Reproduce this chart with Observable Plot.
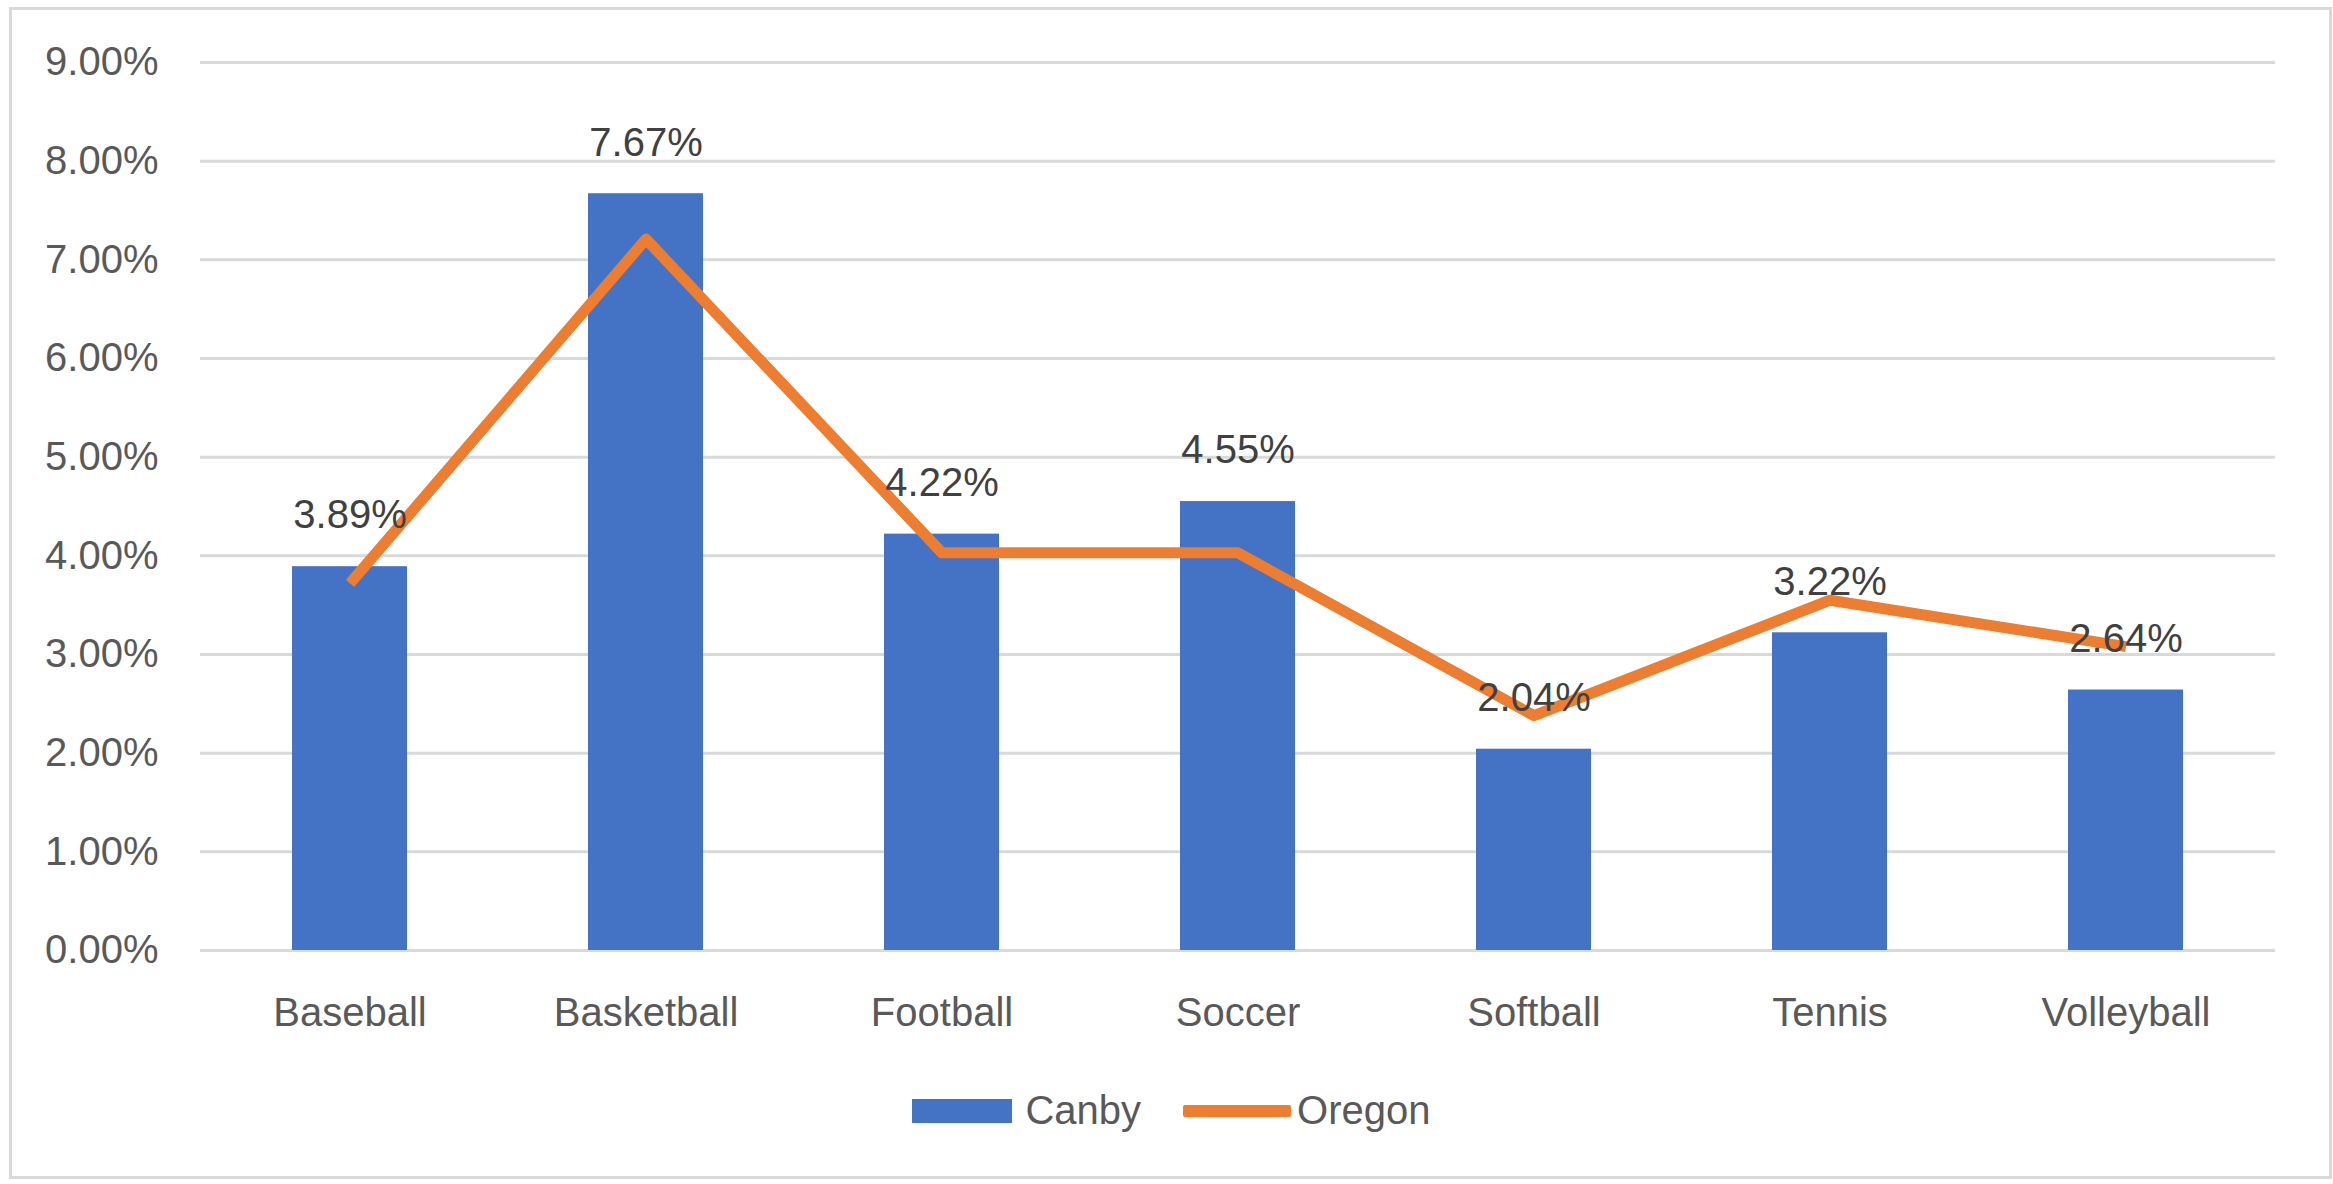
<!DOCTYPE html>
<html>
<head>
<meta charset="utf-8">
<script src="https://cdn.jsdelivr.net/npm/d3@7"></script>
<script src="https://cdn.jsdelivr.net/npm/@observablehq/plot@0.6"></script>
<style>
  html, body { margin: 0; padding: 0; background: #fff; }
  body { width: 2333px; height: 1184px; position: relative; overflow: hidden; font-family: "Liberation Sans", Arial, sans-serif; }
  #frame { position: absolute; left: 9px; top: 7px; width: 2323px; height: 1172px; border: 3px solid #d9d9d9; box-sizing: border-box; pointer-events: none; }
  #chart { position: absolute; left: 0; top: 0; }
  #legend { position: absolute; left: 0; top: 1088px; width: 2333px; display: flex; justify-content: center; align-items: center; font-size: 40px; color: #595959; padding-left: 10px; box-sizing: border-box; }
  .sw-bar { width: 100px; height: 24px; background: #4472C4; margin-right: 13px; }
  .sw-line { width: 108px; height: 12px; background: #ED7D31; margin-left: 42px; margin-right: 6px; border-radius: 2px; }
</style>
</head>
<body>
<div id="chart"></div>
<div id="legend">
  <div class="sw-bar"></div><span>Canby</span>
  <div class="sw-line"></div><span>Oregon</span>
</div>
<div id="frame"></div>
<script>
const categories = ["Baseball", "Basketball", "Football", "Soccer", "Softball", "Tennis", "Volleyball"];
const canby = [0.0389, 0.0767, 0.0422, 0.0455, 0.0204, 0.0322, 0.0264];
const oregon = [0.0372, 0.0721, 0.0403, 0.0403, 0.0238, 0.0355, 0.0308];
const yTicks = [0, 0.01, 0.02, 0.03, 0.04, 0.05, 0.06, 0.07, 0.08, 0.09];

const data = categories.map((c, i) => ({cat: c, canby: canby[i], oregon: oregon[i]}));
const pct = d3.format(".2%");

const chart = Plot.plot({
  width: 2333,
  height: 1060,
  marginLeft: 200,
  marginRight: 58,
  marginTop: 62,
  marginBottom: 110,
  style: {fontFamily: "'Liberation Sans', Arial, sans-serif", fontSize: "40px", color: "#595959", background: "transparent"},
  x: {domain: categories, paddingInner: 0.61, paddingOuter: 0.305, label: null},
  y: {domain: [0, 0.09], label: null},
  marks: [
    Plot.ruleY(yTicks, {stroke: "#d9d9d9", strokeWidth: 3}),
    Plot.barY(data, {x: "cat", y: "canby", fill: "#4472C4"}),
    Plot.lineY(data, {x: "cat", y: "oregon", stroke: "#ED7D31", strokeWidth: 11, strokeLinejoin: "round", strokeLinecap: "butt"}),
    Plot.text(data, {x: "cat", y: "canby", text: d => pct(d.canby), dy: -51, fill: "#404040", fontSize: 40}),
    Plot.axisY({ticks: yTicks, tickFormat: pct, tickSize: 0, tickPadding: 42, fontSize: 40, label: null}),
    Plot.axisX({tickSize: 0, tickPadding: 47, fontSize: 40, label: null})
  ]
});
document.getElementById("chart").appendChild(chart);
</script>
</body>
</html>
